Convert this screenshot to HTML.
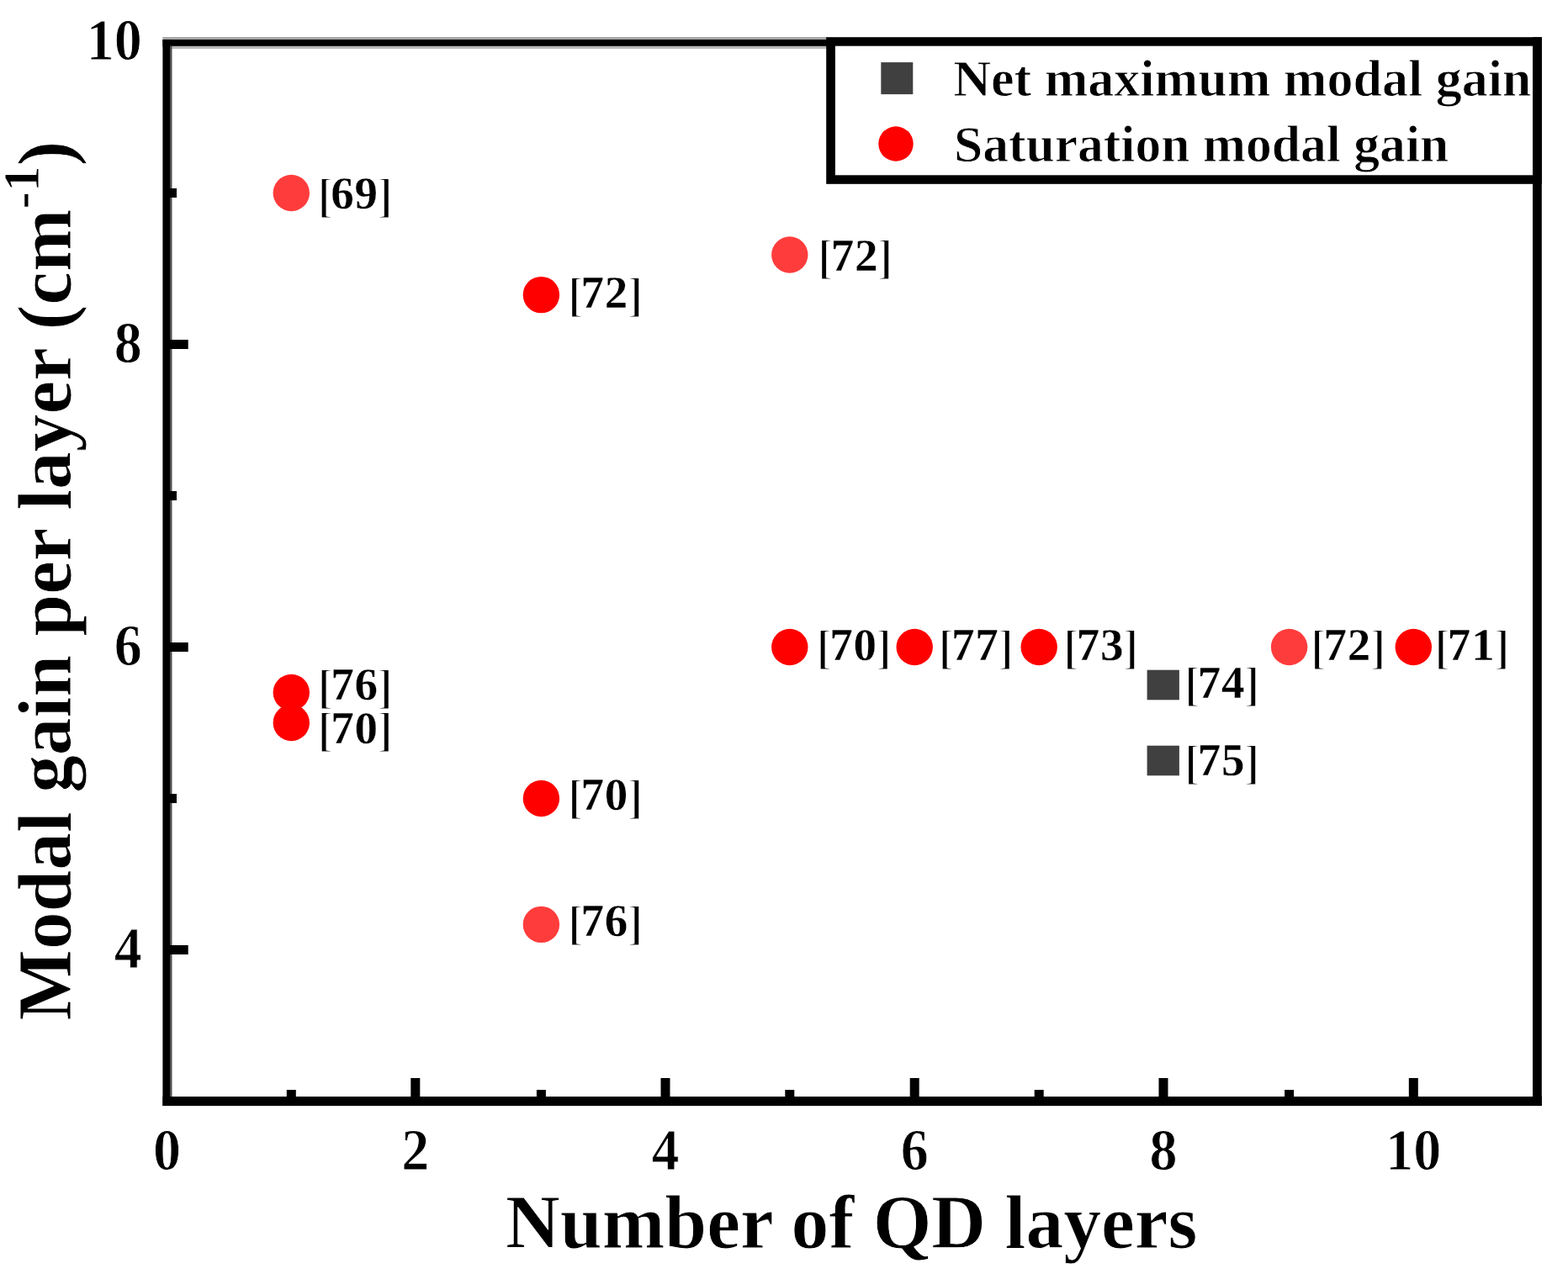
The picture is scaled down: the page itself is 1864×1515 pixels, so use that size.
<!DOCTYPE html>
<html lang="en"><head><meta charset="utf-8">
<title>Modal gain per layer vs number of QD layers</title>
<style>
html,body{margin:0;padding:0;background:#fff;}
body{width:1864px;height:1515px;overflow:hidden;}
svg{display:block;}
text{font-family:"Liberation Serif", "Times New Roman", Times, serif;font-weight:bold;fill:#000;stroke:#fff;stroke-width:0.9px;stroke-linejoin:round;}
.tick{font-size:69.5px;}
.ref{font-size:56px;stroke-width:2px;}
.ref tspan.d{font-size:55px;letter-spacing:0.8px;stroke-width:0.3px;}
.leg{font-size:62px;}
.title{font-size:90.5px;}
</style></head><body>
<svg width="1864" height="1515" viewBox="0 0 1864 1515">
<rect x="0" y="0" width="1864" height="1515" fill="#ffffff"/>
<g id="frame">
<rect x="193.4" y="44" width="790" height="5" fill="#a8a8a8"/>
<rect x="193.4" y="53" width="790" height="5" fill="#b8b8b8"/>
<rect x="193.4" y="47.1" width="790" height="7.7" fill="#000"/>
<rect x="202" y="55" width="2.5" height="1260" fill="#505050"/>
<rect x="193.4" y="47" width="8.6" height="1268" fill="#000"/>
<rect x="1822" y="44.2" width="10.8" height="1270.8" fill="#000"/>
<rect x="193.4" y="1304" width="1639.4" height="11" fill="#000"/>
</g>
<g id="ticks" fill="#000">
<rect x="200" y="1124.0" width="23.7" height="11"/>
<rect x="200" y="764.0" width="23.7" height="11"/>
<rect x="200" y="404.0" width="23.7" height="11"/>
<rect x="200" y="944.0" width="10" height="11"/>
<rect x="200" y="584.0" width="10" height="11"/>
<rect x="200" y="224.0" width="10" height="11"/>
<rect x="488.3" y="1282" width="11" height="25"/>
<rect x="785.5" y="1282" width="11" height="25"/>
<rect x="1081.7" y="1282" width="11" height="25"/>
<rect x="1377.5" y="1282" width="11" height="25"/>
<rect x="1674.8" y="1282" width="11" height="25"/>
<rect x="340.8" y="1296" width="11" height="11"/>
<rect x="637.9" y="1296" width="11" height="11"/>
<rect x="933.3" y="1296" width="11" height="11"/>
<rect x="1229.7" y="1296" width="11" height="11"/>
<rect x="1527.1" y="1296" width="11" height="11"/>
</g>
<g id="legend">
<rect x="982.2" y="44.2" width="850.6" height="174.6" fill="#000"/>
<rect x="992.9" y="54.7" width="829.1" height="153.6" fill="#fff"/>
<rect x="1047.3" y="74.1" width="38" height="38" fill="#404040"/>
<circle cx="1065" cy="171" r="20.7" fill="#ff0000"/>
<text class="leg" x="1133.2" y="114.4">Net maximum modal gain</text>
<text class="leg" transform="translate(1134 192) scale(0.993 1)">Saturation modal gain</text>
</g>
<g id="markers">
<circle cx="346.3" cy="229.5" r="21.7" fill="#ff3c3c"/>
<circle cx="643.4" cy="350.6" r="21.7" fill="#ff0000"/>
<circle cx="938.8" cy="303.0" r="21.7" fill="#ff3c3c"/>
<circle cx="346.3" cy="823.5" r="21.7" fill="#ff0000"/>
<circle cx="346.3" cy="859.5" r="21.7" fill="#ff0000"/>
<circle cx="643.4" cy="949.5" r="21.7" fill="#ff0000"/>
<circle cx="643.4" cy="1099.4" r="21.7" fill="#ff3c3c"/>
<circle cx="938.8" cy="769.5" r="21.7" fill="#ff0000"/>
<circle cx="1087.2" cy="769.5" r="21.7" fill="#ff0000"/>
<circle cx="1235.2" cy="769.5" r="21.7" fill="#ff0000"/>
<rect x="1363.6" y="796.7" width="38.3" height="35.6" fill="#404040"/>
<rect x="1363.6" y="886.7" width="38.3" height="35.6" fill="#404040"/>
<circle cx="1532.6" cy="769.5" r="21.7" fill="#ff3c3c"/>
<circle cx="1680.3" cy="769.5" r="21.7" fill="#ff0000"/>
</g>
<g id="refs">
<text class="ref" x="377.6" y="251.5">[<tspan class="d" dx="-3" dy="-3.5">69</tspan><tspan dx="-1.5" dy="3.5">]</tspan></text>
<text class="ref" x="674.9" y="369.5">[<tspan class="d" dx="-3" dy="-3.5">72</tspan><tspan dx="-1.5" dy="3.5">]</tspan></text>
<text class="ref" x="972.0" y="325.3">[<tspan class="d" dx="-3" dy="-3.5">72</tspan><tspan dx="-1.5" dy="3.5">]</tspan></text>
<text class="ref" x="377.6" y="835.5">[<tspan class="d" dx="-3" dy="-3.5">76</tspan><tspan dx="-1.5" dy="3.5">]</tspan></text>
<text class="ref" x="377.6" y="887.4">[<tspan class="d" dx="-3" dy="-3.5">70</tspan><tspan dx="-1.5" dy="3.5">]</tspan></text>
<text class="ref" x="674.9" y="966.5">[<tspan class="d" dx="-3" dy="-3.5">70</tspan><tspan dx="-1.5" dy="3.5">]</tspan></text>
<text class="ref" x="674.9" y="1116.5">[<tspan class="d" dx="-3" dy="-3.5">76</tspan><tspan dx="-1.5" dy="3.5">]</tspan></text>
<text class="ref" x="970.6" y="788.8">[<tspan class="d" dx="-3" dy="-3.5">70</tspan><tspan dx="-1.5" dy="3.5">]</tspan></text>
<text class="ref" x="1115.4" y="788.8">[<tspan class="d" dx="-3" dy="-3.5">77</tspan><tspan dx="-1.5" dy="3.5">]</tspan></text>
<text class="ref" x="1264.0" y="788.8">[<tspan class="d" dx="-3" dy="-3.5">73</tspan><tspan dx="-1.5" dy="3.5">]</tspan></text>
<text class="ref" x="1408.1" y="833.2">[<tspan class="d" dx="-3" dy="-3.5">74</tspan><tspan dx="-1.5" dy="3.5">]</tspan></text>
<text class="ref" x="1408.1" y="925.7">[<tspan class="d" dx="-3" dy="-3.5">75</tspan><tspan dx="-1.5" dy="3.5">]</tspan></text>
<text class="ref" x="1557.9" y="788.8">[<tspan class="d" dx="-3" dy="-3.5">72</tspan><tspan dx="-1.5" dy="3.5">]</tspan></text>
<text class="ref" x="1705.2" y="788.8">[<tspan class="d" dx="-3" dy="-3.5">71</tspan><tspan dx="-1.5" dy="3.5">]</tspan></text>
</g>
<g id="ticklabels">
<text class="tick" transform="translate(168.8 1150.8) scale(0.95 1)" text-anchor="end">4</text>
<text class="tick" transform="translate(168.8 790.8) scale(0.95 1)" text-anchor="end">6</text>
<text class="tick" transform="translate(168.8 430.8) scale(0.95 1)" text-anchor="end">8</text>
<text class="tick" transform="translate(168.8 70.8) scale(0.95 1)" text-anchor="end">10</text>
<text class="tick" transform="translate(198.6 1391) scale(0.95 1)" text-anchor="middle">0</text>
<text class="tick" transform="translate(493.8 1391) scale(0.95 1)" text-anchor="middle">2</text>
<text class="tick" transform="translate(791.0 1391) scale(0.95 1)" text-anchor="middle">4</text>
<text class="tick" transform="translate(1087.2 1391) scale(0.95 1)" text-anchor="middle">6</text>
<text class="tick" transform="translate(1383.0 1391) scale(0.95 1)" text-anchor="middle">8</text>
<text class="tick" transform="translate(1680.3 1391) scale(0.95 1)" text-anchor="middle">10</text>
</g>
<text class="title" transform="translate(1012.3 1483.8) scale(0.9905 1)" text-anchor="middle">Number of QD layers</text>
<text class="title" transform="translate(83.8 690.6) rotate(-90) scale(0.988 1)" text-anchor="middle">Modal gain per layer (cm<tspan font-size="62" dy="-37.5">-1</tspan><tspan dy="37.5">)</tspan></text>
</svg>
</body></html>
